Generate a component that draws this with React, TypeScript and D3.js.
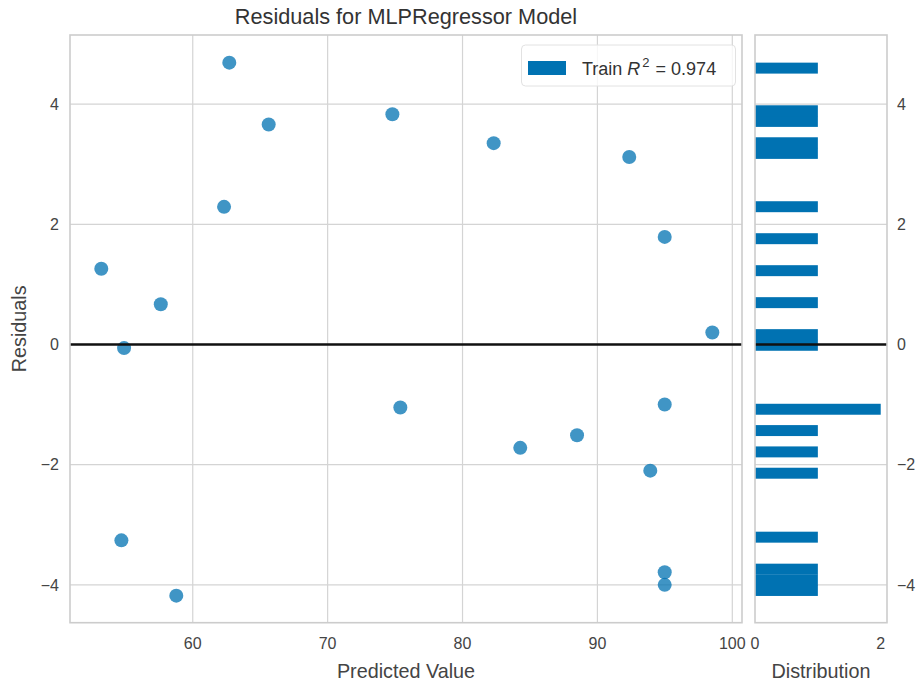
import React, { useEffect, useRef } from 'react';
import * as d3 from 'd3';

// predicted values and residuals
const predicted = [62.71, 65.63, 62.32, 53.22, 57.63, 74.8, 82.31, 92.36, 94.99, 98.52, 54.91, 54.71, 58.78, 75.39, 84.28, 88.49, 94.99, 93.92, 94.99, 94.99];
const residuals = [4.69, 3.66, 2.29, 1.26, 0.67, 3.83, 3.35, 3.12, 1.79, 0.2, -0.06, -3.26, -4.18, -1.05, -1.72, -1.51, -1.0, -2.1, -3.79, -4.0];

const xTicks = [60, 70, 80, 90, 100];
const yTicks = [-4, -2, 0, 2, 4];
const histTicks = [0, 2];
const binCount = 50;
const titleText = 'Residuals for MLPRegressor Model';
const trainScore = '0.974';

const App = () => {
  const svgRef = useRef<SVGSVGElement>(null);

  useEffect(() => {
    const svg = d3.select(svgRef.current);
    svg.selectAll('*').remove(); // Clear previous contents

    const width = 917;
    const height = 684;
    const main = { left: 70, right: 742, top: 35, bottom: 622.7 };
    const hist = { left: 755, right: 887 };
    const font = '"Liberation Sans", Arial, sans-serif';
    const gridColor = '#d4d4d4';
    const textColor = '#444';
    const blue = '#0072B2';

    svg.attr('width', width).attr('height', height).style('font-family', font);

    const x = d3.scaleLinear().domain([50.9, 100.72]).range([main.left, main.right]);
    const y = d3.scaleLinear().domain([-4.63, 5.15]).range([main.bottom, main.top]);
    const hx = d3.scaleLinear().domain([0, 2.1]).range([hist.left, hist.right]);
    const fmt = d3.format('d');

    // main panel grid
    const g = svg.append('g');
    g.selectAll('line.vg')
      .data(xTicks)
      .enter()
      .append('line')
      .attr('x1', d => x(d)).attr('x2', d => x(d))
      .attr('y1', main.top).attr('y2', main.bottom)
      .attr('stroke', gridColor).attr('stroke-width', 1.2);
    g.selectAll('line.hg')
      .data(yTicks)
      .enter()
      .append('line')
      .attr('x1', main.left).attr('x2', main.right)
      .attr('y1', d => y(d)).attr('y2', d => y(d))
      .attr('stroke', gridColor).attr('stroke-width', 1.2);

    // histogram grid
    g.selectAll('line.hhg')
      .data(yTicks)
      .enter()
      .append('line')
      .attr('x1', hist.left).attr('x2', hist.right)
      .attr('y1', d => y(d)).attr('y2', d => y(d))
      .attr('stroke', gridColor).attr('stroke-width', 1.2);

    // histogram of residuals
    const [lo, hi] = d3.extent(residuals) as [number, number];
    const step = (hi - lo) / binCount;
    const bins = d3.bin()
      .domain([lo, hi])
      .thresholds(d3.range(1, binCount).map(i => lo + i * step))(residuals)
      .filter(b => b.length > 0);

    svg.append('g')
      .selectAll('rect')
      .data(bins)
      .enter()
      .append('rect')
      .attr('x', hx(0))
      .attr('y', d => y(d.x1 as number))
      .attr('width', d => hx(d.length) - hx(0))
      .attr('height', d => y(d.x0 as number) - y(d.x1 as number) + 0.3)
      .attr('fill', blue);

    // scatter
    svg.append('g')
      .selectAll('circle')
      .data(predicted)
      .enter()
      .append('circle')
      .attr('cx', d => x(d))
      .attr('cy', (d, i) => y(residuals[i]))
      .attr('r', 7)
      .attr('fill', blue)
      .attr('fill-opacity', 0.75);

    // zero lines
    svg.append('line')
      .attr('x1', main.left).attr('x2', main.right)
      .attr('y1', y(0)).attr('y2', y(0))
      .attr('stroke', '#111').attr('stroke-width', 2.4);
    svg.append('line')
      .attr('x1', hist.left).attr('x2', hist.right)
      .attr('y1', y(0)).attr('y2', y(0))
      .attr('stroke', '#111').attr('stroke-width', 2.4);

    // frames
    svg.append('rect')
      .attr('x', main.left).attr('y', main.top)
      .attr('width', main.right - main.left).attr('height', main.bottom - main.top)
      .attr('fill', 'none').attr('stroke', '#cccccc').attr('stroke-width', 1.6);
    svg.append('rect')
      .attr('x', hist.left).attr('y', main.top)
      .attr('width', hist.right - hist.left).attr('height', main.bottom - main.top)
      .attr('fill', 'none').attr('stroke', '#cccccc').attr('stroke-width', 1.6);

    // tick labels
    const labels = svg.append('g').attr('fill', textColor).style('font-size', '16px');
    labels.selectAll('text.xt')
      .data(xTicks)
      .enter()
      .append('text')
      .attr('x', d => x(d))
      .attr('y', 649)
      .attr('text-anchor', 'middle')
      .text(d => fmt(d));
    labels.selectAll('text.yt')
      .data(yTicks)
      .enter()
      .append('text')
      .attr('x', 59)
      .attr('y', d => y(d))
      .attr('dy', '0.36em')
      .attr('text-anchor', 'end')
      .text(d => fmt(d));
    labels.selectAll('text.hxt')
      .data(histTicks)
      .enter()
      .append('text')
      .attr('x', d => hx(d))
      .attr('y', 649)
      .attr('text-anchor', 'middle')
      .text(d => fmt(d));
    labels.selectAll('text.hyt')
      .data(yTicks)
      .enter()
      .append('text')
      .attr('x', 897)
      .attr('y', d => y(d))
      .attr('dy', '0.36em')
      .attr('text-anchor', 'start')
      .text(d => fmt(d));

    // axis titles
    svg.append('text')
      .attr('x', (main.left + main.right) / 2).attr('y', 678)
      .attr('text-anchor', 'middle').attr('fill', textColor)
      .style('font-size', '19.8px')
      .text('Predicted Value');
    svg.append('text')
      .attr('x', (hist.left + hist.right) / 2).attr('y', 678)
      .attr('text-anchor', 'middle').attr('fill', textColor)
      .style('font-size', '19.8px')
      .text('Distribution');
    svg.append('text')
      .attr('transform', `translate(26,${(main.top + main.bottom) / 2}) rotate(-90)`)
      .attr('text-anchor', 'middle').attr('fill', textColor)
      .style('font-size', '19.8px')
      .text('Residuals');
    svg.append('text')
      .attr('x', (main.left + main.right) / 2).attr('y', 24)
      .attr('text-anchor', 'middle').attr('fill', '#333')
      .style('font-size', '21.7px')
      .text(titleText);

    // legend
    const lg = svg.append('g');
    lg.append('rect')
      .attr('x', 521.5).attr('y', 45)
      .attr('width', 214).attr('height', 41).attr('rx', 4)
      .attr('fill', 'white').attr('fill-opacity', 0.8)
      .attr('stroke', '#e2e2e2');
    lg.append('rect')
      .attr('x', 528).attr('y', 61)
      .attr('width', 38).attr('height', 14)
      .attr('fill', blue);
    const lt = lg.append('text')
      .attr('x', 582).attr('y', 75)
      .attr('fill', '#333')
      .style('font-size', '18px');
    lt.append('tspan').text('Train\u00a0');
    lt.append('tspan').style('font-style', 'italic').text('R');
    lt.append('tspan').attr('dy', -8).attr('dx', 2).style('font-size', '13px').text('2');
    lt.append('tspan').attr('dy', 8).attr('dx', 6).text('=');
    lt.append('tspan').attr('dx', 5).text(trainScore);
  }, []);

  return <svg ref={svgRef} viewBox="0 0 917 684" style={{ position: 'absolute', left: 0, top: 0 }}></svg>;
};

export default App;
